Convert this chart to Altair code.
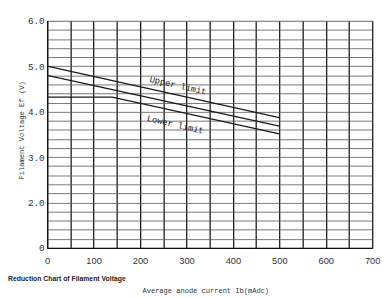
import altair as alt
import pandas as pd

# ---- data ----
upper_current = [0, 500]
upper_voltage = [5.0, 3.87]
middle_current = [0, 500]
middle_voltage = [4.8, 3.68]
lower_current = [0, 140, 500]
lower_voltage = [4.32, 4.32, 3.51]

x_grid_values = list(range(0, 701, 50))
y_grid_values = [v / 5 for v in range(5, 31)]

curve_labels = ["Upper limit", "Lower limit"]
label_current = [282, 276]
label_voltage = [4.58, 3.72]

y_title = "Filament Voltage   Ef (V)"
x_title = "Average anode current Ib(mAdc)"
caption = "Reduction Chart of Filament Voltage"

# ---- tables ----
rows = []
for name, xs, ys in [("Upper", upper_current, upper_voltage),
                     ("Middle", middle_current, middle_voltage),
                     ("Lower", lower_current, lower_voltage)]:
    for i, (c, v) in enumerate(zip(xs, ys)):
        rows.append({"series": name, "order": i, "current": c, "voltage": v})
curves = pd.DataFrame(rows)
labels = pd.DataFrame({"label": curve_labels, "current": label_current, "voltage": label_voltage})

is_int = "abs(datum.value - round(datum.value)) < 0.001"

x_scale = alt.Scale(domain=[0, 700], nice=False, zero=False)
y_scale = alt.Scale(domain=[1, 6], nice=False, zero=False)

x_axis = alt.Axis(
    values=x_grid_values, title=None, ticks=False, labelPadding=8,
    labelExpr="datum.value % 100 == 0 ? datum.label : ''",
    labelFlush=False, labelOverlap=False,
    labelFont="Liberation Sans", labelFontSize=9.5, labelColor="#333",
    grid=True, gridColor="#1a1a1a", gridWidth=1.3,
    domainColor="#111", domainWidth=1.3,
)
y_axis = alt.Axis(
    values=y_grid_values, title=None, ticks=False, labelPadding=3,
    labelExpr=f"{is_int} ? (datum.value == 1 ? '0' : format(datum.value, '.1f')) : ''",
    labelOverlap=False, labelFlush=False,
    labelFont="Liberation Mono", labelFontSize=9.5, labelColor="#333",
    grid=True, gridColor="#555", gridWidth=0.8,
    domainColor="#111", domainWidth=1.3,
)

lines = alt.Chart(curves).mark_line(color="#1a1a1a", strokeWidth=1.3).encode(
    x=alt.X("current:Q", scale=x_scale, axis=x_axis),
    y=alt.Y("voltage:Q", scale=y_scale, axis=y_axis),
    detail="series:N",
    order="order:Q",
)

curve_text = alt.Chart(labels).mark_text(
    font="Liberation Mono", fontSize=9, angle=13, color="#222",
    align="center", baseline="middle",
).encode(
    x=alt.X("current:Q", scale=x_scale, axis=x_axis),
    y=alt.Y("voltage:Q", scale=y_scale, axis=y_axis),
    text="label:N",
)

ytitle = alt.Chart(pd.DataFrame({"t": [y_title]})).mark_text(
    font="Liberation Mono", fontSize=7.3, angle=270, color="#333",
    align="center", baseline="middle",
).encode(x=alt.value(-26), y=alt.value(112), text="t:N")

xtitle = alt.Chart(pd.DataFrame({"t": [x_title]})).mark_text(
    font="Liberation Mono", fontSize=7.2, color="#333",
    align="center", baseline="middle",
).encode(x=alt.value(162), y=alt.value(276), text="t:N")

cap = alt.Chart(pd.DataFrame({"t": [caption]})).mark_text(
    font="Liberation Sans", fontSize=7, fontWeight="bold", color="#222",
    align="left", baseline="middle",
).encode(x=alt.value(-40), y=alt.value(264), text="t:N")

chart = alt.layer(lines, curve_text, ytitle, xtitle, cap).properties(
    width=332, height=232,
    padding={"left": 40, "top": 10, "right": 10, "bottom": 46},
    autosize=alt.AutoSizeParams(type="none"),
).configure_view(stroke=None).configure(background="white")

chart.save("out.html", embed_options={"renderer": "svg", "actions": False})
